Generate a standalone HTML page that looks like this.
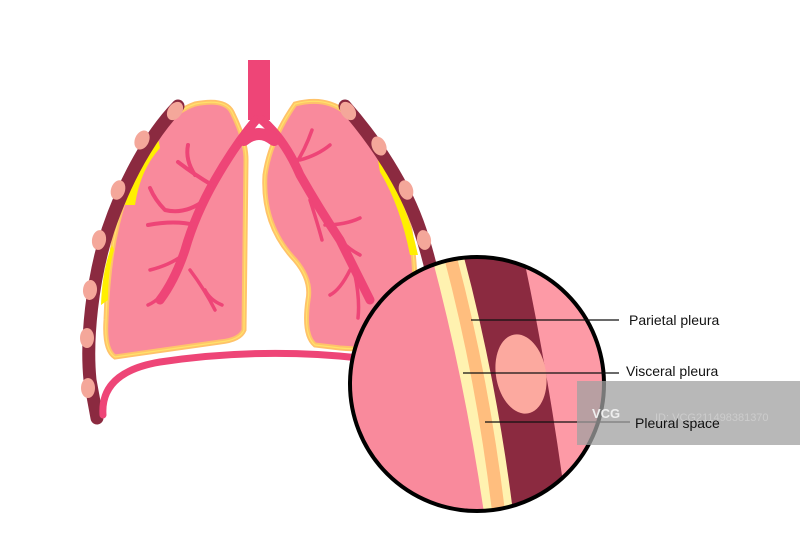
<!DOCTYPE html>
<html><head><meta charset="utf-8"><style>
html,body{margin:0;padding:0;background:#fff;}
svg{display:block}
text{font-family:"Liberation Sans",sans-serif;}
</style></head><body>
<svg width="800" height="556" viewBox="0 0 800 556" xmlns="http://www.w3.org/2000/svg">
<defs><clipPath id="cc"><circle cx="477" cy="384" r="127"/></clipPath></defs>
<!-- lungs -->
<g fill="#f98a9c" stroke="#ffc36a" stroke-width="5">
<path d="M195 104 Q225 98 232 112 Q246 140 246 160 L244 330 Q240 340 220 342 L115 357 Q104 350 106 320 Q108 250 124 200 Q150 120 195 104 Z"/>
<path d="M295 104 Q325 96 345 112 Q395 165 410 230 Q420 290 410 340 Q390 352 340 348 L315 345 Q303 335 308 300 Q312 280 295 260 Q262 225 265 175 Q270 140 295 104 Z"/>
</g>
<g fill="none" stroke="#ffe36a" stroke-width="1.2">
<path d="M195 104 Q225 98 232 112 Q246 140 246 160 L244 330 Q240 340 220 342 L115 357 Q104 350 106 320 Q108 250 124 200 Q150 120 195 104 Z"/>
<path d="M295 104 Q325 96 345 112 Q395 165 410 230 Q420 290 410 340 Q390 352 340 348 L315 345 Q303 335 308 300 Q312 280 295 260 Q262 225 265 175 Q270 140 295 104 Z"/>
</g>
<!-- effusion -->
<path d="M158 138 Q135 160 125 205 L135 205 Q140 170 160 148 Z" fill="#ffef00"/>
<path d="M112 245 Q102 270 101 305 L108 300 Q108 270 114 250 Z" fill="#ffef00"/>
<path d="M378 160 Q405 195 418 255 L410 255 Q400 205 380 172 Z" fill="#ffef00"/>
<!-- ribs -->
<path d="M178 106 C150 135 125 180 108 230 C92 280 86 340 90 380 L97 418" fill="none" stroke="#8b2a40" stroke-width="13" stroke-linecap="round"/>
<path d="M345 106 C375 140 405 185 420 230 C430 260 436 290 440 310" fill="none" stroke="#8b2a40" stroke-width="13" stroke-linecap="round"/>
<g fill="#f4a79a">
<ellipse cx="175" cy="111" rx="7" ry="10" transform="rotate(35 175 111)"/>
<ellipse cx="142" cy="140" rx="7" ry="10" transform="rotate(25 142 140)"/>
<ellipse cx="118" cy="190" rx="7" ry="10" transform="rotate(18 118 190)"/>
<ellipse cx="99" cy="240" rx="7" ry="10" transform="rotate(10 99 240)"/>
<ellipse cx="90" cy="290" rx="7" ry="10" transform="rotate(5 90 290)"/>
<ellipse cx="87" cy="338" rx="7" ry="10"/>
<ellipse cx="88" cy="388" rx="7" ry="10"/>
<ellipse cx="348" cy="111" rx="7" ry="10" transform="rotate(-35 348 111)"/>
<ellipse cx="379" cy="146" rx="7" ry="10" transform="rotate(-25 379 146)"/>
<ellipse cx="406" cy="190" rx="7" ry="10" transform="rotate(-18 406 190)"/>
<ellipse cx="424" cy="240" rx="7" ry="10" transform="rotate(-10 424 240)"/>
</g>
<!-- trachea and bronchi -->
<g fill="none" stroke="#ee4577" stroke-linecap="round">
<path d="M259 60 L259 120" stroke-width="22" stroke-linecap="butt"/>
<path d="M256 120 Q235 145 215 180 Q195 215 185 250 Q175 280 160 300" stroke-width="9"/>
<path d="M262 120 Q285 140 300 175 Q320 210 340 240 Q355 270 370 300" stroke-width="9"/>
<path d="M244 140 Q259 128 274 140" stroke-width="12"/>
<path d="M212 185 Q195 175 178 162 M195 175 Q185 160 188 145 M205 200 Q185 215 165 210 Q155 200 150 188 M195 225 Q175 220 148 225" stroke-width="4"/>
<path d="M183 255 Q170 265 150 270 M175 280 Q160 300 148 305 M190 270 Q205 290 215 310 M205 290 Q210 300 222 305" stroke-width="3.5"/>
<path d="M295 165 Q305 150 312 130 M300 160 Q318 155 330 145 M310 200 Q318 225 322 240 M325 225 Q345 225 360 218 M340 240 Q350 250 360 255 M355 275 Q360 300 358 318 M350 270 Q340 290 330 295" stroke-width="3.5"/>
</g>
<!-- diaphragm -->
<path d="M103 415 Q100 372 160 362 Q260 347 360 358" fill="none" stroke="#ee4577" stroke-width="7" stroke-linecap="round"/>
<!-- magnified circle -->
<g clip-path="url(#cc)">
<rect x="340" y="250" width="280" height="270" fill="#f98a9c"/>
<path d="M430 250 Q465 380 485 520 L700 520 L700 250 Z" fill="#fff2b0"/>
<path d="M442 250 Q477 380 493 520 L700 520 L700 250 Z" fill="#ffbe7e"/>
<path d="M455 250 Q490 380 506 520 L700 520 L700 250 Z" fill="#fff2b0"/>
<path d="M462 250 Q497 380 514 520 L700 520 L700 250 Z" fill="#8b2a40"/>
<path d="M522 250 Q550 380 568 520 L700 520 L700 250 Z" fill="#fd9aa6"/>
<ellipse cx="521" cy="374" rx="25" ry="40" transform="rotate(-10 521 374)" fill="#fca99f"/>
</g>
<circle cx="477" cy="384" r="127" fill="none" stroke="#000" stroke-width="4"/>
<!-- labels -->
<g stroke="#111" stroke-width="1.2">
<line x1="471" y1="320" x2="619" y2="320"/>
<line x1="463" y1="373" x2="619" y2="373"/>
<line x1="485" y1="422" x2="630" y2="422"/>
</g>
<g font-size="14" fill="#111">
<text x="629" y="325">Parietal pleura</text>
<text x="626" y="376">Visceral pleura</text>
</g>
<!-- watermark -->
<rect x="577" y="381" width="223" height="64" fill="#a0a0a0" opacity="0.75"/>
<text x="635" y="428" font-size="14" fill="#111">Pleural space</text>
<text x="592" y="418" font-size="13" font-weight="bold" fill="#eee">VCG</text>
<text x="655" y="421" font-size="11" fill="#ccc">ID: VCG211498381370</text>
</svg>
</body></html>
